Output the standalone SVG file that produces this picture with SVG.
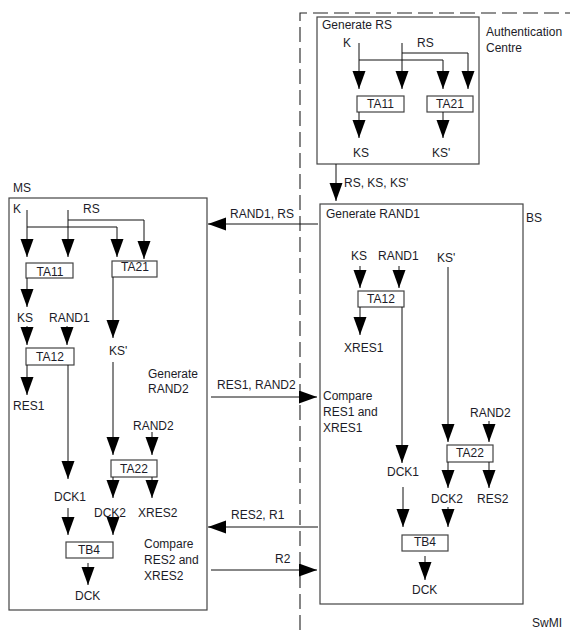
<svg xmlns="http://www.w3.org/2000/svg" width="570" height="630" viewBox="0 0 570 630">
<style>
text{font-family:"Liberation Sans",Arial,sans-serif;font-size:12px;fill:#1c1c28}
.c{text-anchor:middle}
.box{fill:#fff;stroke:#444;stroke-width:1.2}
.ar{fill:none;stroke:#111;stroke-width:1;marker-end:url(#ah)}
.dash{fill:none;stroke:#222;stroke-width:1.1;stroke-dasharray:15 6}
</style>
<defs>
<marker id="ah" markerUnits="userSpaceOnUse" markerWidth="19" markerHeight="14" refX="18" refY="6.5" orient="auto">
<path d="M0,0 L18,6.5 L0,13 Z" fill="#000"/>
</marker>
</defs>
<rect width="570" height="630" fill="#fff"/>
<g id="boundary">
<path class="dash" d="M300,630 V13 H570"/>
<text x="486" y="36">Authentication</text>
<text x="486" y="52">Centre</text>
<text x="526" y="222">BS</text>
<text x="13" y="192">MS</text>
<text x="532" y="627">SwMI</text>
</g>
<g id="auc">
<rect class="box" x="317" y="17" width="162" height="147"/>
<text x="322" y="29">Generate RS</text>
<text x="343" y="47">K</text>
<text x="417" y="47">RS</text>
<text x="353" y="157">KS</text>
<text x="432" y="157">KS'</text>
</g>
<g id="auc-ta11"><rect class="box" x="357" y="96" width="47" height="16"/><text class="c" x="380.5" y="108">TA11</text></g>
<g id="auc-ta21"><rect class="box" x="427" y="96" width="46" height="16"/><text class="c" x="450" y="108">TA21</text></g>
<g id="bs">
<rect class="box" x="320" y="204" width="203" height="400"/>
<text x="326" y="218">Generate RAND1</text>
<text x="351" y="260">KS</text>
<text x="378" y="260">RAND1</text>
<text x="437" y="262">KS'</text>
<text x="344" y="352">XRES1</text>
<text x="323" y="400">Compare</text>
<text x="323" y="416">RES1 and</text>
<text x="323" y="432">XRES1</text>
<text x="470" y="417">RAND2</text>
<text x="387" y="476">DCK1</text>
<text x="431" y="503">DCK2</text>
<text x="477" y="503">RES2</text>
<text x="412" y="594">DCK</text>
</g>
<g id="bs-ta12"><rect class="box" x="358" y="291" width="46" height="16"/><text class="c" x="381" y="303">TA12</text></g>
<g id="bs-ta22"><rect class="box" x="447" y="445" width="46" height="17"/><text class="c" x="470" y="457">TA22</text></g>
<g id="bs-tb4"><rect class="box" x="402" y="535" width="46" height="16"/><text class="c" x="425" y="546">TB4</text></g>
<g id="ms">
<rect class="box" x="9" y="198" width="198" height="412"/>
<text x="13" y="213">K</text>
<text x="83" y="213">RS</text>
<text x="17" y="322">KS</text>
<text x="49" y="322">RAND1</text>
<text x="109" y="355">KS'</text>
<text x="148" y="378">Generate</text>
<text x="148" y="393">RAND2</text>
<text x="13" y="410">RES1</text>
<text x="133" y="430">RAND2</text>
<text x="54" y="501">DCK1</text>
<text x="94" y="517">DCK2</text>
<text x="138" y="517">XRES2</text>
<text x="144" y="548">Compare</text>
<text x="144" y="564">RES2 and</text>
<text x="144" y="580">XRES2</text>
<text x="75" y="600">DCK</text>
</g>
<g id="ms-ta11"><rect class="box" x="26" y="263" width="47" height="15"/><text class="c" x="50" y="276">TA11</text></g>
<g id="ms-ta21"><rect class="box" x="112" y="261" width="45" height="16"/><text class="c" x="135" y="271">TA21</text></g>
<g id="ms-ta12"><rect class="box" x="26" y="348" width="48" height="17"/><text class="c" x="50" y="361">TA12</text></g>
<g id="ms-ta22"><rect class="box" x="111" y="460" width="46" height="17"/><text class="c" x="134" y="473">TA22</text></g>
<g id="ms-tb4"><rect class="box" x="66" y="542" width="47" height="16"/><text class="c" x="89" y="554">TB4</text></g>
<g id="connectors">
<path class="ar" d="M359,43 V89"/>
<path class="ar" d="M359,60 H443 V89"/>
<path class="ar" d="M402,43 V89"/>
<path class="ar" d="M402,53 H468 V89"/>
<path class="ar" d="M359,112 V138"/>
<path class="ar" d="M443,112 V138"/>
<path class="ar" d="M336,164 V201"/>
<text x="344" y="187">RS, KS, KS'</text>
<path class="ar" d="M360,266 V288"/>
<path class="ar" d="M399,266 V288"/>
<path class="ar" d="M360,307 V335"/>
<path class="ar" d="M402,307 V463"/>
<path class="ar" d="M448,267 V442"/>
<path class="ar" d="M489,421 V442"/>
<path class="ar" d="M448,462 V488"/>
<path class="ar" d="M489,462 V488"/>
<path class="ar" d="M403,487 V527"/>
<path class="ar" d="M448,507 V527"/>
<path class="ar" d="M425,556 V580"/>
<path class="ar" d="M27,210 V257"/>
<path class="ar" d="M27,227 H117 V257"/>
<path class="ar" d="M68,210 V257"/>
<path class="ar" d="M68,220 H144 V259"/>
<path class="ar" d="M27,278 V307"/>
<path class="ar" d="M27,326 V345"/>
<path class="ar" d="M67,326 V345"/>
<path class="ar" d="M27,365 V395"/>
<path class="ar" d="M68,365 V479"/>
<path class="ar" d="M113,277 V338"/>
<path class="ar" d="M113,362 V455"/>
<path class="ar" d="M152,432 V455"/>
<path class="ar" d="M113,477 V498"/>
<path class="ar" d="M152,477 V498"/>
<path class="ar" d="M68,508 V535"/>
<path class="ar" d="M113,517 V535"/>
<path class="ar" d="M88,563 V585"/>
<path class="ar" d="M318,224 H208"/>
<text x="230" y="218">RAND1, RS</text>
<path class="ar" d="M211,397 H317"/>
<text x="217" y="389">RES1, RAND2</text>
<path class="ar" d="M318,527 H208"/>
<text x="231" y="519">RES2, R1</text>
<path class="ar" d="M211,570 H317"/>
<text x="275" y="563">R2</text>
</g>
</svg>
